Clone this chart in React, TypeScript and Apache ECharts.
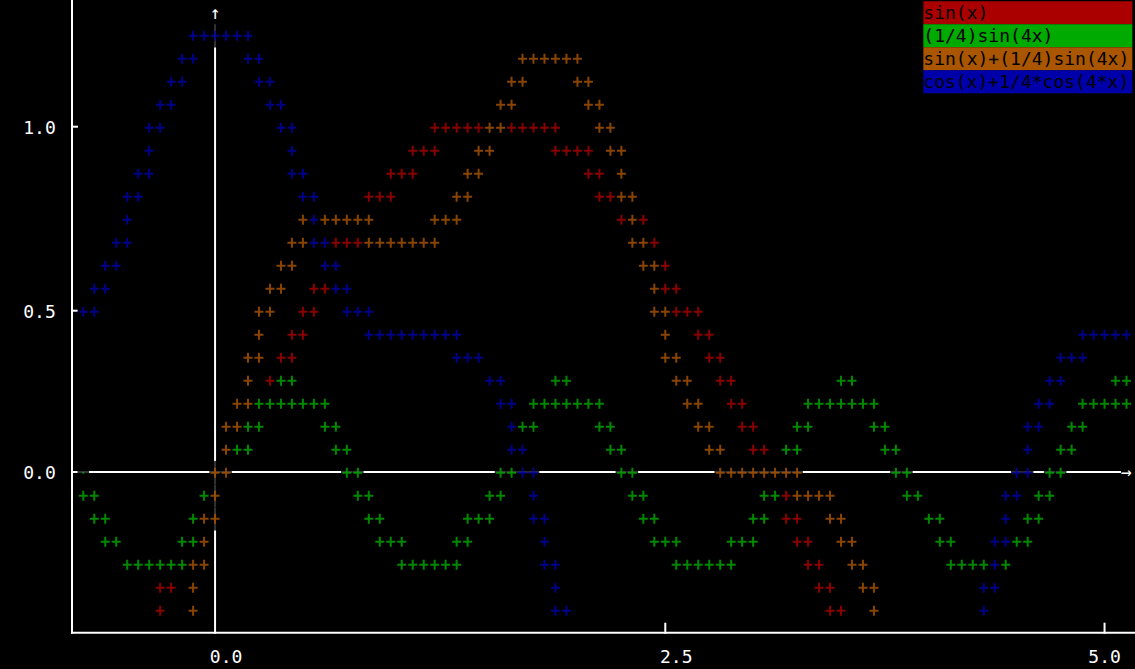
import React, { useEffect, useRef } from "react";
import * as echarts from "echarts";

// The reference is a character-cell plot: every point is [column, row] of its text grid
// (column 13 = x 0.0, column 54 label = 2.5, column 93 = 5.0; row 0 = y 0.0, row 7 = 0.5, row 15 = 1.0).
const sinCells: number[][] = [
  [7, -6], [7, -5], [8, -5],
  [17, 4], [18, 5], [19, 5], [19, 6], [20, 6], [20, 7], [21, 7], [21, 8], [22, 8],
  [23, 10], [24, 10], [25, 10],
  [26, 12], [27, 12], [28, 12], [28, 13], [29, 13], [30, 13], [30, 14], [31, 14], [32, 14],
  [32, 15], [33, 15], [34, 15], [35, 15], [36, 15], [39, 15], [40, 15], [41, 15], [42, 15], [43, 15],
  [43, 14], [44, 14], [45, 14], [46, 14], [46, 13], [47, 13], [47, 12], [48, 12], [49, 11], [51, 11],
  [52, 10], [53, 9], [53, 8], [54, 8],
  [54, 7], [55, 7], [56, 7], [56, 6], [57, 6], [57, 5], [58, 5], [58, 4], [59, 4], [59, 3], [60, 3],
  [60, 2], [61, 2], [61, 1], [62, 1],
  [64, -1], [64, -2], [65, -2], [65, -3], [66, -3], [66, -4], [67, -4], [67, -5], [68, -5], [68, -6], [69, -6],
];

const quarterSin4Cells: number[][] = [
  [0, -1], [1, -1], [1, -2], [2, -2], [2, -3], [3, -3],
  [4, -4], [5, -4], [6, -4], [7, -4], [8, -4], [9, -4], [9, -3], [10, -3], [10, -2], [11, -1],
  [14, 1], [15, 1], [15, 2], [16, 2], [16, 3], [17, 3], [18, 3], [19, 3], [20, 3], [21, 3], [22, 3],
  [18, 4], [19, 4],
  [22, 2], [23, 2], [23, 1], [24, 1], [24, 0], [25, 0], [25, -1], [26, -1], [26, -2], [27, -2],
  [27, -3], [28, -3], [29, -3],
  [29, -4], [30, -4], [31, -4], [32, -4], [33, -4], [34, -4], [34, -3], [35, -3], [35, -2], [36, -2],
  [37, -2], [37, -1], [38, -1], [38, 0], [39, 0],
  [40, 2], [41, 2], [41, 3], [42, 3], [43, 3], [44, 3], [45, 3], [46, 3], [47, 3], [43, 4], [44, 4],
  [47, 2], [48, 2], [48, 1], [49, 1], [49, 0], [50, 0],
  [50, -1], [51, -1], [51, -2], [52, -2], [52, -3], [53, -3], [54, -3], [54, -4], [55, -4], [56, -4],
  [57, -4], [58, -4], [59, -4], [59, -3], [60, -3], [61, -3], [61, -2], [62, -2], [62, -1], [63, -1],
  [64, 1], [65, 1], [65, 2], [66, 2], [66, 3], [67, 3], [68, 3], [69, 3], [70, 3], [71, 3], [72, 3],
  [69, 4], [70, 4], [72, 2], [73, 2], [73, 1], [74, 1], [74, 0], [75, 0], [75, -1], [76, -1],
  [77, -2], [78, -2], [78, -3], [79, -3],
  [79, -4], [80, -4], [81, -4], [82, -4], [84, -4], [85, -3], [86, -3], [86, -2], [87, -2], [87, -1],
  [88, -1], [88, 0], [89, 0], [89, 1], [90, 1], [90, 2], [91, 2], [91, 3], [92, 3], [93, 3], [94, 3],
  [95, 3], [94, 4], [95, 4],
];

const sumCells: number[][] = [
  [10, -6], [10, -5], [10, -4], [11, -4], [11, -3], [11, -2], [12, -2], [12, -1], [12, 0], [13, 0],
  [13, 1], [13, 2], [14, 2], [14, 3], [15, 3], [15, 4], [15, 5], [16, 5], [16, 6], [16, 7], [17, 7],
  [17, 8], [18, 8], [18, 9], [19, 9], [19, 10], [20, 10], [20, 11],
  [22, 11], [23, 11], [24, 11], [25, 11], [26, 11], [26, 10], [27, 10], [28, 10], [29, 10], [30, 10],
  [31, 10], [32, 10], [32, 11], [33, 11], [34, 11], [34, 12], [35, 12], [35, 13], [36, 13], [36, 14],
  [37, 14], [37, 15], [38, 15], [38, 16], [39, 16], [39, 17], [40, 17],
  [40, 18], [41, 18], [42, 18], [43, 18], [44, 18], [45, 18], [45, 17], [46, 17], [46, 16], [47, 16],
  [47, 15], [48, 15], [48, 14], [49, 14], [49, 13], [49, 12], [50, 12], [50, 11], [50, 10], [51, 10],
  [51, 9], [52, 9], [52, 8], [52, 7], [53, 7], [53, 6], [53, 5], [54, 5], [54, 4], [55, 4], [55, 3],
  [56, 3], [56, 2], [57, 2], [57, 1], [58, 1],
  [58, 0], [59, 0], [60, 0], [61, 0], [62, 0], [63, 0], [64, 0], [65, 0], [65, -1], [66, -1], [67, -1],
  [68, -1], [68, -2], [69, -2], [69, -3], [70, -3], [70, -4], [71, -4], [71, -5], [72, -5], [72, -6],
];

const cosCells: number[][] = [
  [0, 7], [1, 7], [1, 8], [2, 8], [2, 9], [3, 9], [3, 10], [4, 10], [4, 11], [4, 12], [5, 12], [5, 13],
  [6, 13], [6, 14], [6, 15], [7, 15], [7, 16], [8, 16], [8, 17], [9, 17], [9, 18], [10, 18],
  [10, 19], [11, 19], [12, 19], [13, 19], [14, 19], [15, 19],
  [15, 18], [16, 18], [16, 17], [17, 17], [17, 16], [18, 16], [18, 15], [19, 15], [19, 14], [19, 13],
  [20, 13], [20, 12], [21, 12], [21, 11], [21, 10], [22, 10], [22, 9], [23, 9], [23, 8], [24, 8],
  [24, 7], [25, 7], [26, 7],
  [26, 6], [27, 6], [28, 6], [29, 6], [30, 6], [31, 6], [32, 6], [33, 6], [34, 6], [34, 5], [35, 5],
  [36, 5], [37, 4], [38, 4], [38, 3], [39, 3], [39, 2], [39, 1], [40, 1], [40, 0], [41, 0], [41, -1],
  [41, -2], [42, -2], [42, -3], [42, -4], [43, -4], [43, -5], [43, -6], [44, -6],
  [82, -6], [82, -5], [83, -5], [83, -4], [83, -3], [84, -3], [84, -2], [84, -1], [85, -1], [85, 0],
  [86, 0], [86, 1], [86, 2], [87, 2], [87, 3], [88, 3], [88, 4], [89, 4], [89, 5], [90, 5], [91, 5],
  [91, 6], [92, 6], [93, 6], [94, 6], [95, 6],
];

// a lone green dot where the green curve meets the x axis at the left edge
const greenDotCells: number[][] = [[0, 0]];

const seriesNames = ["sin(x)", "(1/4)sin(4x)", "sin(x)+(1/4)sin(4x)", "cos(x)+1/4*cos(4*x)"];
const seriesColors = ["#aa0000", "#00aa00", "#aa5500", "#0000aa"];

const xTickCols = [13, 54, 93];
const xTickLabels = ["0.0", "2.5", "5.0"];
const xTickMarkCols = [53, 93];
const yTickRows = [0, 7, 15];
const yTickLabels = ["0.0", "0.5", "1.0"];
const yTickMarkRows = [7, 15];

const FONT = "'DejaVu Sans Mono', monospace";
const PLUS = "path://M0,4H9V6H0Z M3.5,0H5.5V10H3.5Z";

export default function App() {
  const ref = useRef<HTMLDivElement>(null);
  useEffect(() => {
    const chart = echarts.init(ref.current!, null, { renderer: "svg" });
    const allData = [sinCells, quarterSin4Cells, sumCells, cosCells];
    const bgCells = ([] as number[][]).concat(...allData, greenDotCells);
    chart.setOption({
      animation: false,
      backgroundColor: "#000000",
      grid: { left: 72.3, right: 1.2, top: 1.2, bottom: 35.3 },
      xAxis: {
        type: "value",
        min: -1,
        max: 95.5,
        interval: 1,
        axisLine: { show: false },
        axisTick: { show: false },
        splitLine: { show: false },
        axisLabel: {
          color: "#ffffff",
          fontFamily: FONT,
          fontSize: 18,
          margin: 14,
          formatter: (v: number) => {
            const i = xTickCols.indexOf(Math.round(v));
            return i >= 0 ? xTickLabels[i] : "";
          },
        },
      },
      yAxis: {
        type: "value",
        min: -7,
        max: 20.5,
        interval: 1,
        axisLine: { show: false },
        axisTick: { show: false },
        splitLine: { show: false },
        axisLabel: {
          color: "#ffffff",
          fontFamily: FONT,
          fontSize: 18,
          margin: 16.5,
          formatter: (v: number) => {
            const i = yTickRows.indexOf(Math.round(v));
            return i >= 0 ? yTickLabels[i] : "";
          },
        },
      },
      series: [
        {
          type: "scatter",
          data: bgCells,
          symbol: "rect",
          symbolSize: [11.6, 23.6],
          itemStyle: { color: "#000000" },
          z: 2,
          silent: true,
        },
        ...allData.map((d, i) => ({
          type: "scatter",
          name: seriesNames[i],
          data: d,
          symbol: PLUS,
          symbolSize: [9, 10],
          itemStyle: { color: seriesColors[i] },
          z: 3,
          silent: true,
        })),
        {
          type: "scatter",
          data: greenDotCells,
          symbol: "rect",
          symbolSize: 2,
          itemStyle: { color: seriesColors[1] },
          z: 3,
          silent: true,
        },
      ],
    });

    const px = (c: number) => chart.convertToPixel({ gridIndex: 0 }, [c, 0])[0];
    const py = (r: number) => chart.convertToPixel({ gridIndex: 0 }, [0, r])[1];
    const white = { stroke: "#ffffff", lineWidth: 2 };
    const graphic: any[] = [];
    // frame
    graphic.push({ type: "line", z: 0, shape: { x1: 72, y1: 0, x2: 72, y2: py(-7) }, style: white });
    graphic.push({ type: "line", z: 0, shape: { x1: 71, y1: py(-7) - 1, x2: 1135, y2: py(-7) - 1 }, style: white });
    yTickMarkRows.forEach((r) =>
      graphic.push({ type: "line", z: 0, shape: { x1: 72, y1: py(r) - 1, x2: 78, y2: py(r) - 1 }, style: white })
    );
    xTickMarkCols.forEach((c) =>
      graphic.push({ type: "line", z: 0, shape: { x1: px(c), y1: py(-7) - 11, x2: px(c), y2: py(-7) }, style: white })
    );
    // zero axes
    graphic.push({ type: "line", z: 0, shape: { x1: 72, y1: py(0) - 0.7, x2: px(94) + 5.5, y2: py(0) - 0.7 }, style: white });
    graphic.push({ type: "line", z: 0, shape: { x1: px(12), y1: py(19) - 11.5, x2: px(12), y2: py(-7) }, style: white });
    graphic.push({
      type: "text", z: 10, x: px(95), y: py(0) - 1,
      style: { text: "→", fill: "#ffffff", font: `18px ${FONT}`, align: "center", verticalAlign: "middle" },
    });
    graphic.push({
      type: "text", z: 10, x: px(12), y: py(20),
      style: { text: "↑", fill: "#ffffff", font: `18px ${FONT}`, align: "center", verticalAlign: "middle" },
    });
    // legend boxes
    seriesNames.forEach((name, i) => {
      const r = 20 - i;
      graphic.push({
        type: "rect", z: 10,
        shape: { x: px(77) - 5.5, y: py(r) - 11.5, width: 209, height: 23 },
        style: { fill: seriesColors[i] },
      });
      graphic.push({
        type: "text", z: 11, x: px(77) - 5.5, y: py(r),
        style: { text: name, fill: "#000000", font: `18px ${FONT}`, align: "left", verticalAlign: "middle" },
      });
    });
    chart.setOption({ graphic });
    return () => chart.dispose();
  }, []);
  return (
    <div
      ref={ref}
      style={{ position: "fixed", left: 0, top: 0, width: 1135, height: 669, background: "#000" }}
    />
  );
}
